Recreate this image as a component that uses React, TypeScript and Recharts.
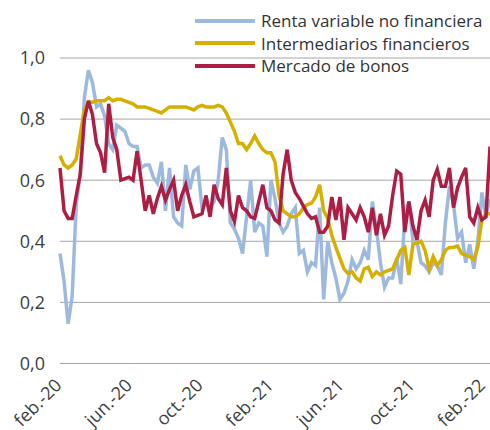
import { LineChart, Line, XAxis, YAxis, CartesianGrid } from "recharts"

// weekly observations, feb-20 .. feb-22
const RENTA_VARIABLE = [
  0.36, 0.27, 0.13, 0.22, 0.52, 0.62, 0.87, 0.96, 0.92, 0.84,
  0.85, 0.81, 0.72, 0.7, 0.78, 0.77, 0.76, 0.72, 0.71, 0.71,
  0.64, 0.65, 0.65, 0.61, 0.59, 0.66, 0.5, 0.64, 0.48, 0.46,
  0.45, 0.65, 0.57, 0.63, 0.64, 0.51, 0.52, 0.51, 0.53, 0.6,
  0.74, 0.7, 0.46, 0.44, 0.41, 0.36, 0.48, 0.6, 0.43, 0.46,
  0.45, 0.35, 0.6, 0.54, 0.46, 0.43, 0.45, 0.49, 0.51, 0.36,
  0.37, 0.3, 0.33, 0.32, 0.51, 0.21, 0.4, 0.33, 0.28, 0.21,
  0.23, 0.27, 0.34, 0.31, 0.33, 0.37, 0.34, 0.53, 0.44, 0.33,
  0.25, 0.28, 0.28, 0.345, 0.26, 0.48, 0.53, 0.4, 0.4, 0.33,
  0.32, 0.3, 0.33, 0.32, 0.29, 0.46, 0.58, 0.52, 0.41, 0.43,
  0.33, 0.39, 0.31, 0.4, 0.56, 0.48, 0.54,
]

const INTERMEDIARIOS = [
  0.68, 0.65, 0.64, 0.65, 0.67, 0.75, 0.83, 0.855, 0.855, 0.86,
  0.86, 0.86, 0.87, 0.86, 0.865, 0.865, 0.86, 0.855, 0.85, 0.84,
  0.84, 0.84, 0.835, 0.83, 0.825, 0.82, 0.83, 0.84, 0.84, 0.84,
  0.84, 0.84, 0.835, 0.83, 0.84, 0.845, 0.84, 0.84, 0.84, 0.845,
  0.84, 0.82, 0.79, 0.76, 0.72, 0.72, 0.7, 0.72, 0.745, 0.72,
  0.7, 0.69, 0.69, 0.66, 0.55, 0.5, 0.49, 0.48, 0.48, 0.49,
  0.51, 0.52, 0.525, 0.545, 0.585, 0.5, 0.475, 0.42, 0.38, 0.345,
  0.31, 0.295, 0.3, 0.28, 0.27, 0.31, 0.315, 0.285, 0.3, 0.29,
  0.3, 0.305, 0.31, 0.34, 0.37, 0.38, 0.29, 0.39, 0.395, 0.4,
  0.37, 0.31, 0.35, 0.32, 0.34, 0.37, 0.38, 0.38, 0.385, 0.36,
  0.355, 0.35, 0.34, 0.38, 0.47, 0.49, 0.49,
]

const MERCADO_BONOS = [
  0.64, 0.5, 0.475, 0.475, 0.55, 0.62, 0.8, 0.86, 0.815, 0.72,
  0.69, 0.625, 0.85, 0.74, 0.7, 0.6, 0.605, 0.61, 0.6, 0.695,
  0.6, 0.5, 0.55, 0.49, 0.54, 0.58, 0.535, 0.57, 0.6, 0.5,
  0.55, 0.585, 0.53, 0.48, 0.485, 0.49, 0.55, 0.48, 0.585, 0.54,
  0.52, 0.64, 0.5, 0.465, 0.55, 0.51, 0.5, 0.48, 0.475, 0.53,
  0.585, 0.51, 0.5, 0.47, 0.46, 0.62, 0.7, 0.6, 0.56, 0.54,
  0.515, 0.49, 0.475, 0.48, 0.43, 0.43, 0.45, 0.545, 0.47, 0.545,
  0.405, 0.51, 0.49, 0.47, 0.51, 0.48, 0.43, 0.51, 0.42, 0.49,
  0.42, 0.45, 0.55, 0.63, 0.62, 0.43, 0.53, 0.45, 0.405, 0.5,
  0.535, 0.48, 0.6, 0.635, 0.58, 0.58, 0.64, 0.51, 0.575, 0.61,
  0.64, 0.48, 0.46, 0.51, 0.47, 0.48, 0.71,
]

const TICK_POS = [0.2, 17.6, 35, 52.4, 69.8, 87.2, 104.6]
const TICK_LABELS = ["feb.-20", "jun.-20", "oct.-20", "feb.-21", "jun.-21", "oct.-21", "feb.-22"]
const Y_TICKS = [0, 0.2, 0.4, 0.6, 0.8, 1.0]

const SERIES = [
  { key: "renta", name: "Renta variable no financiera", color: "#9db9de" },
  { key: "inter", name: "Intermediarios financieros", color: "#d6af00" },
  { key: "bonos", name: "Mercado de bonos", color: "#ad1e45" },
]

const data = RENTA_VARIABLE.map((v, i) => ({
  week: i,
  renta: v,
  inter: INTERMEDIARIOS[i],
  bonos: MERCADO_BONOS[i],
}))

const FONT = "'Open Sans', sans-serif"

const XTick = ({ x, y, payload }: any) => {
  const idx = TICK_POS.indexOf(payload.value)
  return (
    <g transform={`translate(${x + 2},${y + 23})`}>
      <text x={0} y={0} textAnchor="end" transform="rotate(-45)" fill="#404040" fontSize={18} fontFamily={FONT}>
        {TICK_LABELS[idx]}
      </text>
    </g>
  )
}

// legend drawn outside recharts so it does not eat plot space
const LegendBox = () => (
  <div style={{ position: "absolute", top: 9.5, left: 195, fontFamily: FONT, fontSize: 17, color: "#333" }}>
    {SERIES.map((s) => (
      <div key={s.key} style={{ display: "flex", alignItems: "center", height: 22.5 }}>
        <span style={{ display: "inline-block", width: 60, height: 4, background: s.color, marginRight: 6 }} />
        <span style={{ whiteSpace: "nowrap" }}>{s.name}</span>
      </div>
    ))}
  </div>
)

export default function App() {
  return (
    <div style={{ position: "absolute", left: 0, top: 0, width: 490, height: 430, background: "#fff" }}>
      <LineChart width={490} height={430} data={data} margin={{ top: 58, right: 0, bottom: 26.5, left: 0 }}>
        <CartesianGrid vertical={false} stroke="#a6a6a6" strokeWidth={1} />
        <XAxis
          dataKey="week"
          type="number"
          domain={[0, 106]}
          ticks={TICK_POS}
          tick={<XTick />}
          tickLine={false}
          axisLine={false}
          tickSize={0}
          tickMargin={0}
          height={40}
          interval={0}
        />
        <YAxis
          domain={[0, 1]}
          ticks={Y_TICKS}
          tickFormatter={(v: number) => v.toFixed(1).replace(".", ",")}
          tick={{ fill: "#404040", fontSize: 18, fontFamily: FONT }}
          tickLine={false}
          axisLine={false}
          tickSize={0}
          tickMargin={15}
          width={60}
        />
        {SERIES.map((s) => (
          <Line
            key={s.key}
            type="linear"
            dataKey={s.key}
            name={s.name}
            stroke={s.color}
            strokeWidth={3.5}
            dot={false}
            isAnimationActive={false}
          />
        ))}
      </LineChart>
      <LegendBox />
    </div>
  )
}
